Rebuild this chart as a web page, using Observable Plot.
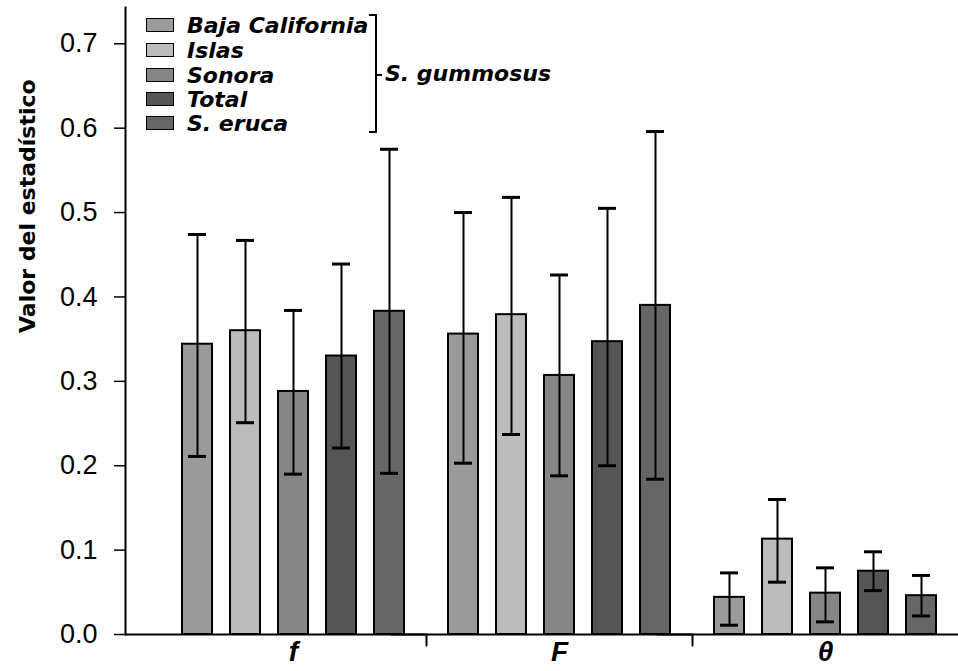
<!DOCTYPE html>
<html>
<head>
<meta charset="utf-8">
<script src="https://cdn.jsdelivr.net/npm/d3@7"></script>
<script src="https://cdn.jsdelivr.net/npm/@observablehq/plot@0.6"></script>
<style>
  html, body { margin: 0; padding: 0; background: #fff; }
  #wrap { position: relative; width: 958px; height: 671px; overflow: hidden; }
  #wrap svg { position: absolute; left: 0; top: 0; }
  .lg { position: absolute; font-family: "DejaVu Sans", sans-serif; font-weight: bold; font-style: italic; font-size: 22px; color: #000; white-space: nowrap; }
  .row { position: absolute; left: 146px; height: 24px; display: flex; align-items: center; }
  .sw { width: 28px; height: 14px; border: 1px solid #000; box-sizing: border-box; margin-right: 13px; }
  .br { position: absolute; background: #000; }
</style>
</head>
<body>
<div id="wrap"></div>
<script>
// ---- data ----
const groups = ["f", "F", "θ"];
const series = ["Baja California", "Islas", "Sonora", "Total", "S. eruca"];
const grays  = ["#9a9a9a", "#bcbcbc", "#868686", "#555555", "#666666"];
const yTicks = [0, 0.1, 0.2, 0.3, 0.4, 0.5, 0.6, 0.7];
const yLabel = "Valor del estadístico";
const bracketLabel = "S. gummosus";

// means, upper and lower error-bar ends per group (order = series)
const mean_f  = [0.344, 0.360, 0.288, 0.330, 0.383];
const hi_f    = [0.474, 0.467, 0.384, 0.439, 0.575];
const lo_f    = [0.211, 0.251, 0.190, 0.221, 0.191];
const mean_F  = [0.356, 0.379, 0.307, 0.347, 0.390];
const hi_F    = [0.500, 0.518, 0.426, 0.505, 0.596];
const lo_F    = [0.203, 0.237, 0.188, 0.200, 0.184];
const mean_th = [0.044, 0.113, 0.049, 0.075, 0.046];
const hi_th   = [0.073, 0.160, 0.079, 0.098, 0.070];
const lo_th   = [0.011, 0.062, 0.015, 0.052, 0.022];

const means = [mean_f, mean_F, mean_th];
const his = [hi_f, hi_F, hi_th];
const los = [lo_f, lo_F, lo_th];
const data = [];
groups.forEach((g, gi) => series.forEach((s, si) => {
  data.push({group: g, series: s, mean: means[gi][si], hi: his[gi][si], lo: los[gi][si]});
}));

// layout of the facet (group) band scale
const W = 958, H = 671, ML = 123, MR = 0;
const fxPadOuter = 0.0656;
const innerW = W - ML - MR;
const fxStep = innerW / (groups.length + 2 * fxPadOuter);
const fxOffset = innerW - groups.length * fxStep; // all outer space on the left (align 1)

const firstGroup = groups[0];
const sepGroups = groups.slice(0, groups.length - 1);
const tickShape = {draw(context, l) { context.moveTo(0, 0); context.lineTo(0, -l); }};

const chart = Plot.plot({
  width: W,
  height: H,
  marginLeft: ML,
  marginRight: MR,
  marginTop: 7,
  marginBottom: 37,
  style: {background: "white", color: "black"},
  fx: {domain: groups, paddingInner: 0, paddingOuter: fxPadOuter, align: 1, axis: null, label: null},
  x: {domain: series, paddingInner: 0.367, paddingOuter: 0.405, axis: null},
  y: {domain: [0, 0.743], axis: null},
  color: {domain: series, range: grays},
  marks: [
    Plot.barY(data, {fx: "group", x: "series", y: "mean", fill: "series", stroke: "black", strokeWidth: 2}),
    Plot.ruleX(data, {fx: "group", x: "series", y1: "lo", y2: "hi", stroke: "black", strokeWidth: 2}),
    Plot.tickY(data, {fx: "group", x: "series", y: "hi", stroke: "black", strokeWidth: 3, insetLeft: 6, insetRight: 6}),
    Plot.tickY(data, {fx: "group", x: "series", y: "lo", stroke: "black", strokeWidth: 3, insetLeft: 6, insetRight: 6}),
    // x axis line (extends left to the y axis)
    Plot.ruleY([0], {stroke: "black", strokeWidth: 2, insetLeft: -fxOffset}),
    // separators between groups
    Plot.vector(sepGroups, {fx: d => d, frameAnchor: "bottom-right", length: 11, rotate: 180, anchor: "start", shape: tickShape, stroke: "black", strokeWidth: 2}),
    Plot.axisFx({anchor: "bottom", tickSize: 0, tickPadding: 7, fontSize: 28, fontWeight: "bold", fontStyle: "italic", fontFamily: "Liberation Sans, Arial, sans-serif", label: null}),
    // y axis line, ticks and labels (drawn at the left edge of the plot)
    Plot.frame({anchor: "left", fx: () => firstGroup, dx: -fxOffset, stroke: "black", strokeWidth: 2}),
    Plot.axisY({ticks: yTicks, tickFormat: d3.format(".1f"), dx: -fxOffset, tickSize: 11, tickPadding: 17, strokeWidth: 1.5, fontSize: 27, fontFamily: "Liberation Sans, Arial, sans-serif", label: null}),
    Plot.text([yLabel], {fx: () => firstGroup, frameAnchor: "left", rotate: -90, dx: -fxOffset - 98, dy: 12, fontSize: 22, fontWeight: "bold", fontFamily: "DejaVu Sans, sans-serif", fill: "black"})
  ]
});

const wrap = document.getElementById("wrap");
wrap.appendChild(chart);

// ---- legend (inside plot area, top-left) ----
const rowCenters = [25, 50, 75, 99, 123];
series.forEach((s, i) => {
  const row = document.createElement("div");
  row.className = "row lg";
  row.style.top = (rowCenters[i] - 12) + "px";
  const sw = document.createElement("div");
  sw.className = "sw";
  sw.style.background = grays[i];
  const t = document.createElement("span");
  t.textContent = s;
  row.appendChild(sw);
  row.appendChild(t);
  wrap.appendChild(row);
});
function bar(l, t, w, h) {
  const d = document.createElement("div");
  d.className = "br";
  Object.assign(d.style, {left: l + "px", top: t + "px", width: w + "px", height: h + "px"});
  wrap.appendChild(d);
}
bar(375, 14, 2, 119);
bar(369, 14, 8, 2);
bar(369, 131, 8, 2);
bar(377, 74, 5, 2);
const gl = document.createElement("div");
gl.className = "lg";
gl.textContent = bracketLabel;
Object.assign(gl.style, {left: "385px", top: "61px"});
wrap.appendChild(gl);
</script>
</body>
</html>
